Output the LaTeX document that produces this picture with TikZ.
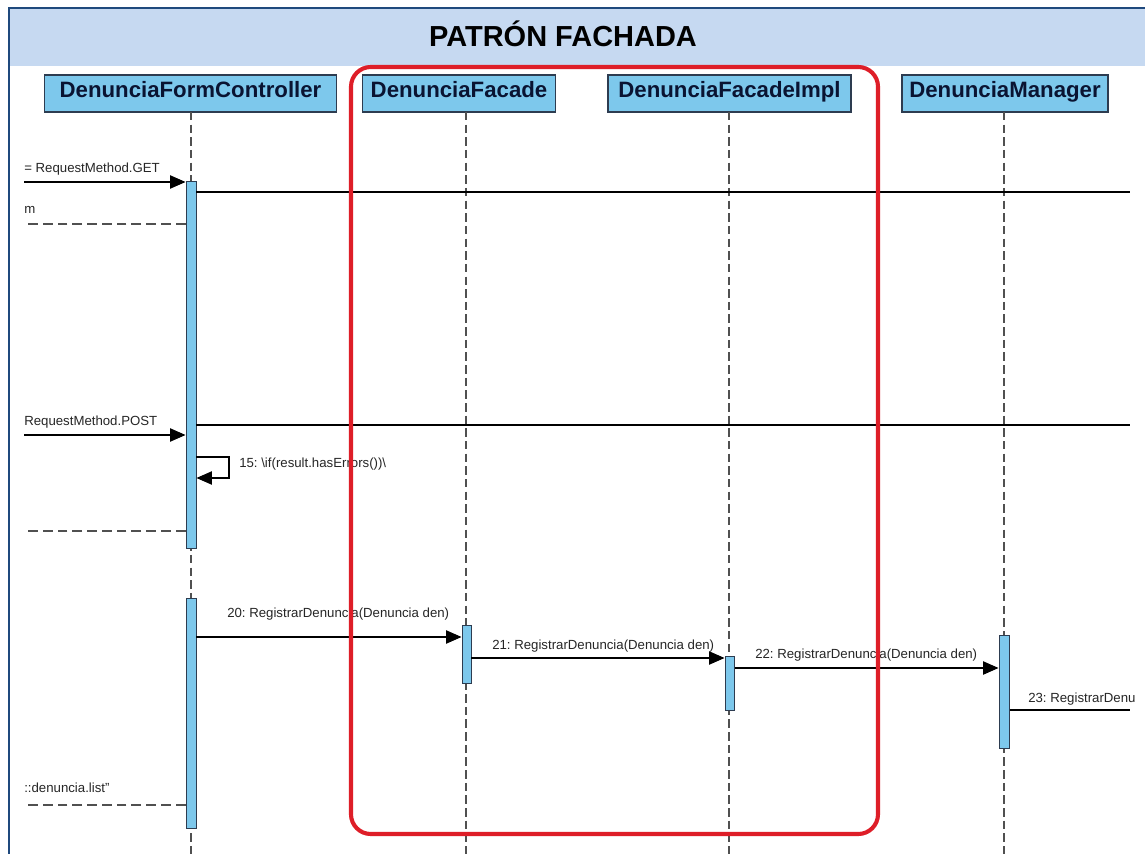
\documentclass[tikz,border=0pt]{standalone}
\usepackage{fontspec}
\setmainfont{Liberation Sans}
\frenchspacing
\usetikzlibrary{arrows.meta, positioning, fit}
\definecolor{facfondo}{RGB}{198, 217, 241}
\definecolor{facmarco}{RGB}{31, 73, 125}
\definecolor{faccaja}{RGB}{125, 200, 236}
\definecolor{facborde}{RGB}{45, 60, 80}
\definecolor{facrojo}{RGB}{222, 30, 40}
\definecolor{factexto}{RGB}{10, 20, 50}
\definecolor{faclinea}{RGB}{80, 80, 80}

\begin{document}
\begin{tikzpicture}[x=0.025cm, y=-0.025cm, >={Triangle[length=11pt, width=9.5pt]},
    cabecera/.style={draw=facborde, fill=faccaja, line width=0.9pt, text=factexto,
        font=\bfseries\fontsize{15.8}{18}\selectfont, minimum height=0.925cm, inner sep=0pt,
        text height=8pt, text depth=3pt},
    activa/.style={draw=facborde, fill=faccaja, line width=0.7pt, inner sep=0pt},
    vida/.style={faclinea, line width=0.8pt, dash pattern=on 6pt off 3pt},
    msj/.style={->, line width=0.8pt},
    linea/.style={line width=0.8pt},
    retorno/.style={faclinea, line width=0.8pt, dash pattern=on 7pt off 3.5pt},
    etiq/.style={font=\fontsize{9.4}{11}\selectfont, text=black!85, inner sep=0pt, anchor=base west}]

\useasboundingbox (0,0) rectangle (1145,854);
\fill[white] (0,0) rectangle (1145,854);

% === Marco y titulo ===
\fill[facfondo] (9,8) rectangle (1145,66);
\draw[facmarco, line width=1.4pt] (9,854) -- (9,8) -- (1145,8);
\node[font=\bfseries\fontsize{20.6}{24}\selectfont] (titulo) at (563,34) {PATRÓN FACHADA};
\coordinate (fondo) at (0,854);

% === Cabeceras de las lineas de vida ===
\node[cabecera, minimum width=7.3cm] (hdrC) at (190.5,93.5) {DenunciaFormController};
\node[cabecera, minimum width=4.825cm] (hdrF) at (459,93.5) {DenunciaFacade};
\node[cabecera, minimum width=6.075cm] (hdrI) at (729.5,93.5) {DenunciaFacadeImpl};
\node[cabecera, minimum width=5.15cm] (hdrM) at (1005,93.5) {DenunciaManager};

% Lineas de vida
\coordinate (vidaC) at (191,112);
\coordinate (vidaF) at (466,112);
\coordinate (vidaI) at (729,112);
\coordinate (vidaM) at (1004,112);
\foreach \v in {vidaC, vidaF, vidaI, vidaM}
    \draw[vida] (\v) -- (\v |- fondo);

% Activaciones
\node[activa, fit={(186,181) (196,548)}] (actC1) {};
\node[activa, fit={(186,598) (196,828)}] (actC2) {};
\node[activa, fit={(462,625) (471,683)}] (actF) {};
\node[activa, fit={(725,656) (734,710)}] (actI) {};
\node[activa, fit={(999,635) (1009,748)}] (actM) {};

% === Mensajes del controlador ===
\coordinate (getIni) at (24,182);
\draw[msj] (getIni) -- (getIni -| actC1.west);
\node[etiq] (getTxt) at (24,172) {= RequestMethod.GET};
\coordinate (finA) at (1130,192);
\draw[linea] (finA -| actC1.east) -- (finA);

\coordinate (retA) at (24,224);
\draw[retorno] (actC1.west |- retA) -- (retA);
\node[etiq] (retATxt) at (24,213) {m};

\coordinate (postIni) at (24,435);
\draw[msj] (postIni) -- (postIni -| actC1.west);
\node[etiq] (postTxt) at (24,425) {RequestMethod.POST};
\coordinate (finB) at (1130,425);
\draw[linea] (finB -| actC1.east) -- (finB);

% Mensaje a si mismo
\coordinate (auto15) at (229,457);
\coordinate (auto15b) at (229,478);
\draw[msj] (actC1.east |- auto15) -- (auto15) -- (auto15b) -- (auto15b -| actC1.east);
\node[etiq] (autoTxt) at (239,467) {15: \textbackslash if(result.hasErrors())\textbackslash};

\coordinate (retB) at (24,531);
\draw[retorno] (actC1.west |- retB) -- (retB);

% === Cadena de la fachada ===
\coordinate (m20) at (0,637);
\draw[msj] (actC2.east |- m20) -- (actF.west |- m20);
\node[etiq] (m20Txt) at (227,617) {20: RegistrarDenuncia(Denuncia den)};

\coordinate (m21) at (0,658);
\draw[msj] (actF.east |- m21) -- (actI.west |- m21);
\node[etiq] (m21Txt) at (492,649) {21: RegistrarDenuncia(Denuncia den)};

\coordinate (m22) at (0,668);
\draw[msj] (actI.east |- m22) -- (actM.west |- m22);
\node[etiq] (m22Txt) at (755,658) {22: RegistrarDenuncia(Denuncia den)};

\coordinate (finC) at (1130,710);
\draw[linea] (actM.east |- finC) -- (finC);
\node[etiq] (m23Txt) at (1028,702) {23: RegistrarDenu};

\coordinate (retC) at (24,805);
\draw[retorno] (actC2.west |- retC) -- (retC);
\node[etiq] (retCTxt) at (24,792) {::denuncia.list"};

% === Marco rojo de la fachada ===
\draw[facrojo, line width=2.9pt, rounded corners=14pt] (351,67) rectangle (878,834);

\end{tikzpicture}
\end{document}
